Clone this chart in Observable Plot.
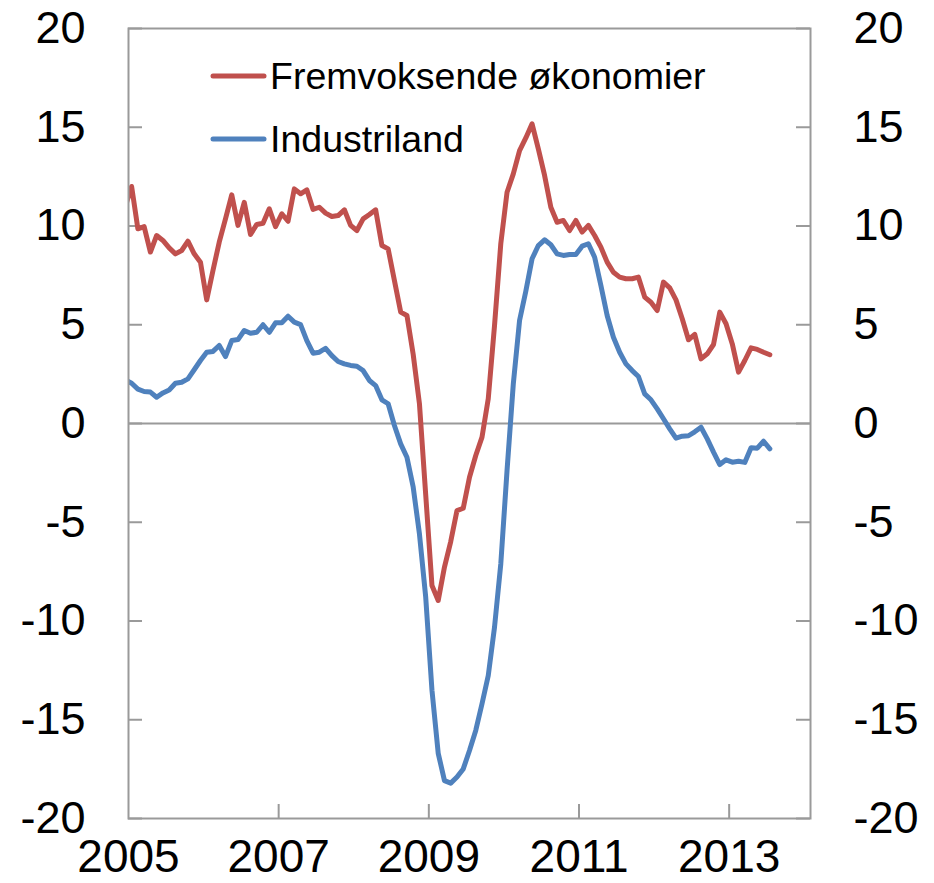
<!DOCTYPE html>
<html><head><meta charset="utf-8">
<script src="https://cdn.jsdelivr.net/npm/d3@7"></script>
<script src="https://cdn.jsdelivr.net/npm/@observablehq/plot@0.6"></script>
<style>
body{margin:0;background:#fff;}
#chart{position:relative;width:934px;height:883px;font-family:Arial,"Liberation Sans",sans-serif;}
#legend{position:absolute;left:0;top:0;pointer-events:none;}
</style></head><body><div id="chart"></div>
<script>
// Series names and colours
const seriesNames = ["Fremvoksende økonomier", "Industriland"];
const seriesColors = ["#C0504D", "#4F81BD"];

// Monthly values, starting December 2004 (first point is clipped at the left edge)
const firstYear = 2004, firstMonth = 11;
const emerging = [
  11.0,
  12.0, 9.86, 9.97, 8.68, 9.52, 9.27, 8.89, 8.59, 8.76, 9.23, 8.59, 8.17,
  6.26, 7.75, 9.18, 10.36, 11.58, 10.03, 11.2, 9.57, 10.08, 10.14, 10.87, 9.97,
  10.62, 10.24, 11.88, 11.63, 11.83, 10.84, 10.95, 10.65, 10.48, 10.53, 10.82, 10.03,
  9.77, 10.36, 10.58, 10.82, 9.01, 8.84, 7.24, 5.64, 5.47, 3.5, 1.0, -3.6,
  -8.2, -8.96, -7.27, -5.98, -4.41, -4.29, -2.72, -1.62, -0.69, 1.26, 4.96, 9.1,
  11.71, 12.64, 13.82, 14.46, 15.17, 13.9, 12.56, 10.95, 10.19, 10.28, 9.77, 10.28,
  9.69, 10.03, 9.52, 8.93, 8.17, 7.66, 7.41, 7.33, 7.33, 7.41, 6.40, 6.14,
  5.72, 7.16, 6.87, 6.26, 5.30, 4.24, 4.51, 3.27, 3.53, 4.0, 5.64, 5.05,
  4.03, 2.6, 3.19, 3.83, 3.75, 3.61, 3.48
];
const industrial = [
  2.2,
  2.04, 1.74, 1.62, 1.59, 1.33, 1.55, 1.70, 2.04, 2.09, 2.26, 2.72, 3.19,
  3.61, 3.65, 3.95, 3.39, 4.2, 4.25, 4.71, 4.57, 4.62, 5.0, 4.62, 5.10,
  5.10, 5.43, 5.13, 5.01, 4.2, 3.56, 3.61, 3.81, 3.44, 3.14, 3.02, 2.94,
  2.90, 2.68, 2.18, 1.92, 1.2, 1.0, -0.1, -1.03, -1.71, -3.22, -5.59, -8.79,
  -13.5, -16.7, -18.08, -18.21, -17.9, -17.49, -16.56, -15.54, -14.19, -12.76, -10.31, -7.11,
  -2.38, 2.0, 5.22, 6.70, 8.34, 9.01, 9.30, 9.05, 8.59, 8.51, 8.56, 8.56,
  8.98, 9.1, 8.42, 6.99, 5.47, 4.37, 3.61, 3.02, 2.68, 2.38, 1.50, 1.2,
  0.74, 0.24, -0.27, -0.74, -0.64, -0.62, -0.42, -0.19, -0.78, -1.45, -2.08, -1.84,
  -1.96, -1.91, -1.97, -1.23, -1.25, -0.9, -1.28
];

// Axis ticks
const yTicks = [-20, -15, -10, -5, 0, 5, 10, 15, 20];
const xTickYears = [2005, 2007, 2009, 2011, 2013];
const xDomain = [2005, 2014 + 1 / 12];

const rows = [];
emerging.forEach((v, i) => rows.push({series: seriesNames[0], t: firstYear + (firstMonth + i + 0.5) / 12, v}));
industrial.forEach((v, i) => rows.push({series: seriesNames[1], t: firstYear + (firstMonth + i + 0.5) / 12, v}));

const W = 934, H = 883, mL = 128, mR = 124, mT = 28, mB = 65;
const plotW = W - mL - mR, plotH = H - mT - mB;
const tickLen = 14;
const gray = "#9a9a9a";

const chart = Plot.plot({
  width: W, height: H,
  marginLeft: mL, marginRight: mR, marginTop: mT, marginBottom: mB,
  style: {fontFamily: 'Arial, "Liberation Sans", sans-serif', background: "white", color: "black", overflow: "visible"},
  x: {type: "linear", domain: xDomain, label: null},
  y: {domain: [-20, 20], label: null},
  color: {domain: seriesNames, range: seriesColors},
  marks: [
    Plot.ruleY([0], {stroke: gray, strokeWidth: 2}),
    Plot.tickY(yTicks, {y: d => d, stroke: gray, strokeWidth: 2, insetRight: plotW - tickLen}),
    Plot.tickY(yTicks, {y: d => d, stroke: gray, strokeWidth: 2, insetLeft: plotW - tickLen}),
    Plot.tickX(xTickYears.slice(1), {x: d => d, stroke: gray, strokeWidth: 2, insetTop: plotH - tickLen}),
    Plot.line(rows, {x: "t", y: "v", z: "series", stroke: "series", strokeWidth: 5, clip: true}),
    Plot.frame({stroke: gray, strokeWidth: 2}),
    Plot.axisY(yTicks, {anchor: "left", tickSize: 0, tickPadding: 43, fontSize: 45, tickFormat: d => String(d)}),
    Plot.axisY(yTicks, {anchor: "right", tickSize: 0, tickPadding: 43, fontSize: 45, tickFormat: d => String(d)}),
    Plot.axisX(xTickYears, {anchor: "bottom", tickSize: 0, tickPadding: 21, fontSize: 46, tickFormat: d => String(d)})
  ]
});
const container = document.getElementById("chart");
container.appendChild(chart);

// Legend (inside the plot area, top-left)
const ns = "http://www.w3.org/2000/svg";
const leg = document.createElementNS(ns, "svg");
leg.setAttribute("id", "legend");
leg.setAttribute("width", W);
leg.setAttribute("height", 200);
const legY = [76, 139];
seriesNames.forEach((name, i) => {
  const l = document.createElementNS(ns, "line");
  l.setAttribute("x1", 213); l.setAttribute("x2", 264);
  l.setAttribute("y1", legY[i]); l.setAttribute("y2", legY[i]);
  l.setAttribute("stroke", seriesColors[i]);
  l.setAttribute("stroke-width", 5);
  l.setAttribute("stroke-linecap", "round");
  leg.appendChild(l);
  const t = document.createElementNS(ns, "text");
  t.setAttribute("x", 270);
  t.setAttribute("y", legY[i] + 13);
  t.setAttribute("font-size", 37.5);
  t.setAttribute("font-family", 'Arial, "Liberation Sans", sans-serif');
  t.setAttribute("fill", "black");
  t.textContent = name;
  leg.appendChild(t);
});
container.appendChild(leg);
</script>
</body></html>
